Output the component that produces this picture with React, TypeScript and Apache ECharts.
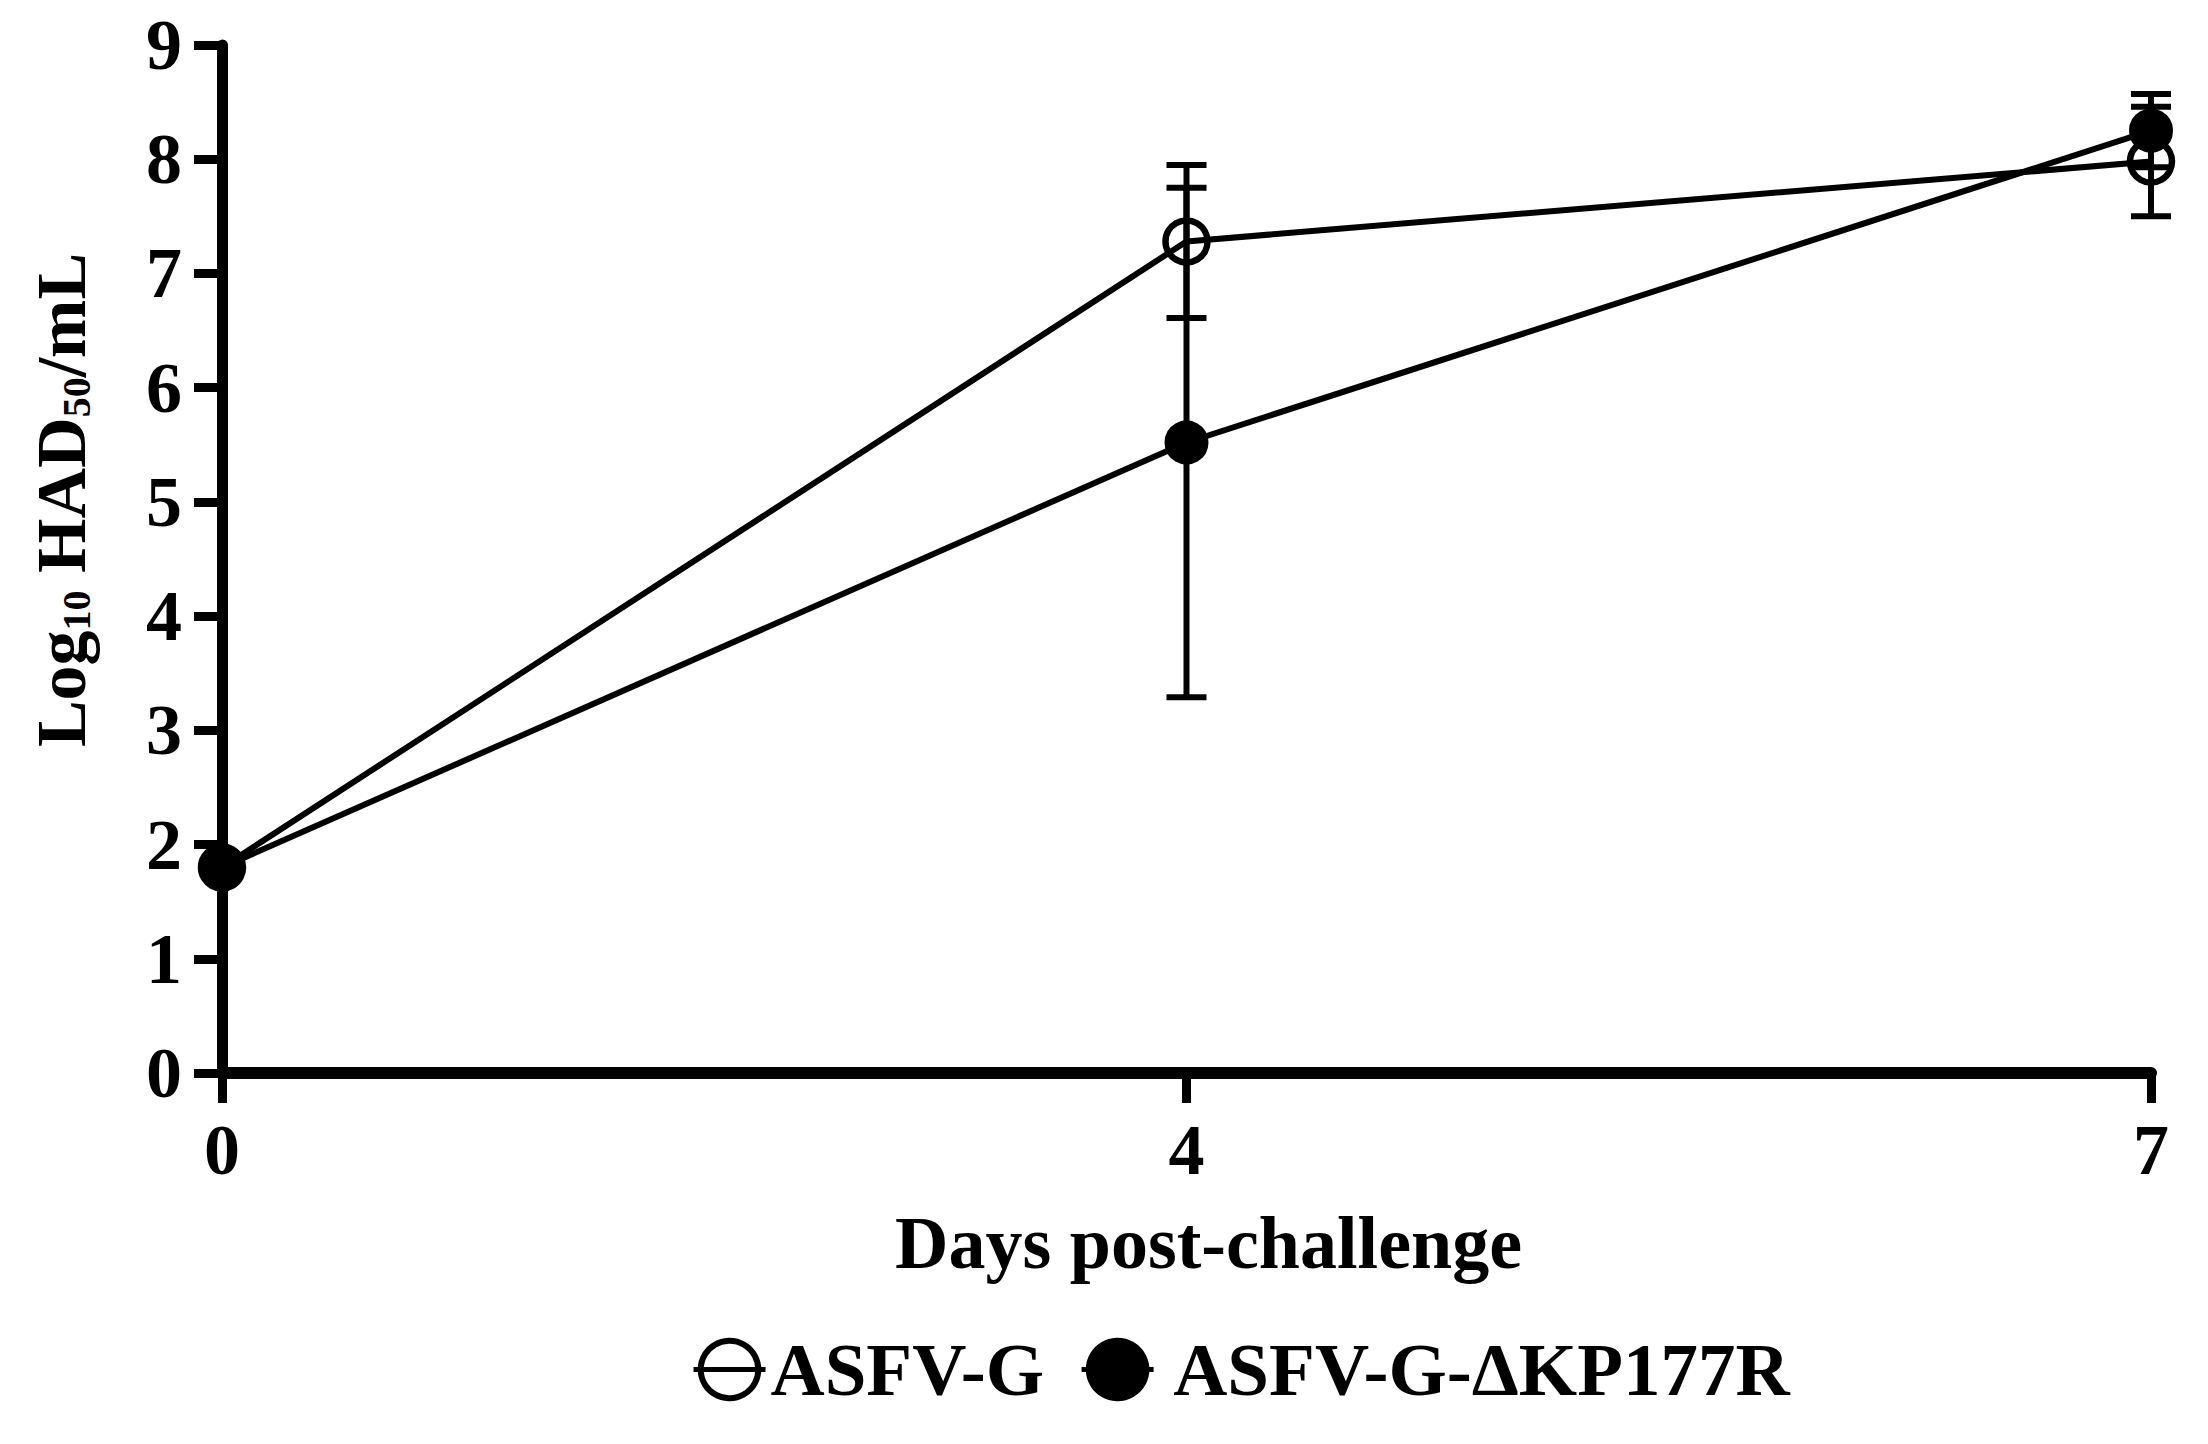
import React, { useEffect, useRef } from "react";
import * as echarts from "echarts";

const days = ["0", "4", "7"];
const asfvG = [1.8, 7.28, 7.98];
const asfvGErr = [0, 0.67, 0.48];
const asfvDelta = [1.8, 5.52, 8.25];
const asfvDeltaErr = [0, 2.23, 0.32];
const yTicks = [0, 9, 1]; // min, max, interval

const NAME_G = "ASFV-G";
const NAME_D = "ASFV-G-ΔKP177R";
const FONT = "'Liberation Serif', 'Times New Roman', serif";

function errData(vals: number[], errs: number[]) {
  const out: number[][] = [];
  vals.forEach((v, i) => {
    if (errs[i] > 0) out.push([i, v - errs[i], v + errs[i]]);
  });
  return out;
}

function errSeries(vals: number[], errs: number[]) {
  return {
    type: "custom",
    z: 1,
    silent: true,
    encode: { x: 0, y: [1, 2] },
    data: errData(vals, errs),
    renderItem: (params: any, api: any) => {
      const x = api.value(0);
      const lo = api.coord([x, api.value(1)]);
      const hi = api.coord([x, api.value(2)]);
      const hw = 20;
      const style = { stroke: "#000", lineWidth: 6, fill: "none" };
      return {
        type: "group",
        children: [
          { type: "line", shape: { x1: lo[0], y1: lo[1], x2: hi[0], y2: hi[1] }, style },
          { type: "line", shape: { x1: lo[0] - hw, y1: lo[1], x2: lo[0] + hw, y2: lo[1] }, style },
          { type: "line", shape: { x1: hi[0] - hw, y1: hi[1], x2: hi[0] + hw, y2: hi[1] }, style },
        ],
      };
    },
  };
}

export default function App() {
  const ref = useRef<HTMLDivElement>(null);
  useEffect(() => {
    if (!ref.current) return;
    const chart = echarts.init(ref.current, null, { renderer: "svg" });
    chart.setOption({
      animation: false,
      backgroundColor: "#fff",
      textStyle: { fontFamily: FONT, color: "#000" },
      grid: { left: 222, right: 57, top: 45, bottom: 371, containLabel: false },
      legend: {
        data: [NAME_G, NAME_D],
        left: 686,
        top: 1327,
        itemWidth: 72,
        itemHeight: 72,
        itemGap: 35,
        lineStyle: { width: 5 },
        itemStyle: { borderWidth: 6 },
        formatter: (n: string) => (n === NAME_D ? " " + n : n),
        textStyle: { fontFamily: FONT, fontSize: 75, fontWeight: "bold", color: "#000" },
      },
      xAxis: {
        type: "category",
        data: days,
        boundaryGap: false,
        name: "Days post-challenge",
        nameLocation: "middle",
        nameGap: 133,
        nameTextStyle: { fontFamily: FONT, fontSize: 74, fontWeight: "bold", color: "#000", padding: [0, 0, 0, 44] },
        axisLine: { lineStyle: { color: "#000", width: 12 } },
        axisTick: { length: 30, lineStyle: { color: "#000", width: 9 } },
        axisLabel: { fontFamily: FONT, fontSize: 72, fontWeight: "bold", color: "#000", margin: 41 },
        splitLine: { show: false },
      },
      yAxis: {
        type: "value",
        min: yTicks[0],
        max: yTicks[1],
        interval: yTicks[2],
        name: "{a|Log}{s|10}{a| HAD}{s|50}{a|/mL}",
        nameLocation: "middle",
        nameRotate: 90,
        nameGap: 126,
        nameTextStyle: {
          padding: [0, 0, 0, 118],
          rich: {
            a: { fontFamily: FONT, fontSize: 70, fontWeight: "bold", color: "#000", lineHeight: 70 },
            s: { fontFamily: FONT, fontSize: 40, fontWeight: "bold", color: "#000", lineHeight: 38, verticalAlign: "bottom" },
          },
        },
        axisLine: { show: true, lineStyle: { color: "#000", width: 11 } },
        axisTick: { show: true, length: 28, lineStyle: { color: "#000", width: 9 } },
        axisLabel: { fontFamily: FONT, fontSize: 72, fontWeight: "bold", color: "#000", margin: 40 },
        splitLine: { show: false },
      },
      series: [
        errSeries(asfvG, asfvGErr),
        errSeries(asfvDelta, asfvDeltaErr),
        {
          name: NAME_G,
          type: "line",
          z: 3,
          data: asfvG,
          symbol: "circle",
          symbolSize: 42,
          lineStyle: { color: "#000", width: 6 },
          itemStyle: { color: "rgba(0,0,0,0)", borderColor: "#000", borderWidth: 6.5 },
        },
        {
          name: NAME_D,
          type: "line",
          z: 4,
          data: asfvDelta,
          symbol: "circle",
          symbolSize: 42,
          lineStyle: { color: "#000", width: 6 },
          itemStyle: { color: "#000", borderColor: "#000", borderWidth: 2 },
        },
      ],
    });
    return () => chart.dispose();
  }, []);
  return (
    <div
      ref={ref}
      style={{ position: "absolute", left: 0, top: 0, width: 2208, height: 1444 }}
    />
  );
}
